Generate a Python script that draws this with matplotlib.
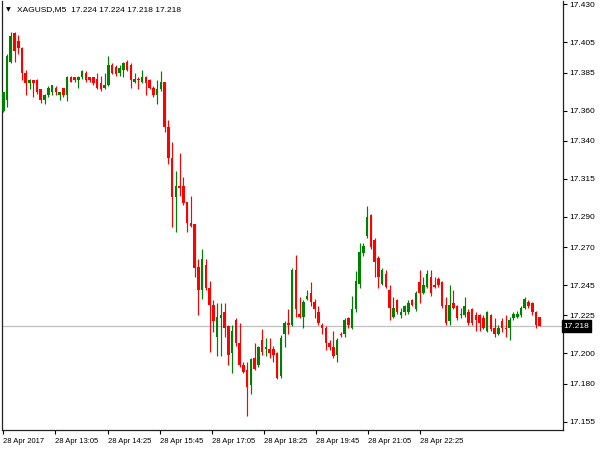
import numpy as np
import matplotlib
matplotlib.use("Agg")
import matplotlib.pyplot as plt

plt.rcParams['font.family'] = ['Liberation Sans', 'DejaVu Sans']

symbol = "XAGUSD,M5"
opens = [17.360, 17.367, 17.392, 17.411, 17.406, 17.401, 17.385, 17.378, 17.380, 17.380,
         17.374, 17.367, 17.370, 17.372, 17.375, 17.370, 17.375, 17.370, 17.382, 17.382,
         17.380, 17.382, 17.385, 17.382, 17.382, 17.381, 17.378, 17.375, 17.377, 17.390,
         17.389, 17.385, 17.387, 17.392, 17.390, 17.379, 17.381, 17.379, 17.382, 17.380,
         17.375, 17.370, 17.374, 17.379, 17.349, 17.329, 17.303, 17.310, 17.310, 17.300,
         17.286, 17.285, 17.257, 17.242, 17.258, 17.243, 17.232, 17.211, 17.223, 17.227,
         17.218, 17.200, 17.222, 17.207, 17.192, 17.189, 17.179, 17.197, 17.192, 17.209,
         17.203, 17.203, 17.203, 17.200, 17.185, 17.213, 17.220, 17.219, 17.255, 17.226,
         17.224, 17.236, 17.240, 17.234, 17.227, 17.219, 17.217, 17.207, 17.204, 17.199,
         17.213, 17.213, 17.223, 17.217, 17.229, 17.246, 17.266, 17.277, 17.291, 17.275,
         17.263, 17.246, 17.252, 17.242, 17.224, 17.235, 17.225, 17.227, 17.227, 17.235,
         17.229, 17.247, 17.240, 17.244, 17.250, 17.245, 17.249, 17.247, 17.232, 17.221,
         17.233, 17.231, 17.225, 17.225, 17.227, 17.229, 17.225, 17.225, 17.223, 17.215,
         17.225, 17.217, 17.213, 17.221, 17.217, 17.217, 17.223, 17.224, 17.225, 17.230,
         17.234, 17.233, 17.227, 17.224]
highs = [17.372, 17.397, 17.412, 17.412, 17.410, 17.402, 17.387, 17.381, 17.380, 17.381,
         17.374, 17.371, 17.376, 17.377, 17.376, 17.372, 17.375, 17.383, 17.383, 17.382,
         17.383, 17.387, 17.386, 17.382, 17.382, 17.385, 17.383, 17.385, 17.396, 17.391,
         17.390, 17.390, 17.392, 17.393, 17.391, 17.385, 17.382, 17.387, 17.383, 17.381,
         17.376, 17.380, 17.386, 17.379, 17.354, 17.339, 17.320, 17.332, 17.316, 17.300,
         17.304, 17.285, 17.262, 17.269, 17.262, 17.248, 17.235, 17.233, 17.233, 17.233,
         17.219, 17.219, 17.223, 17.220, 17.194, 17.194, 17.197, 17.207, 17.205, 17.216,
         17.210, 17.210, 17.205, 17.201, 17.212, 17.221, 17.229, 17.256, 17.265, 17.237,
         17.235, 17.242, 17.247, 17.236, 17.231, 17.220, 17.218, 17.209, 17.215, 17.210,
         17.214, 17.223, 17.224, 17.238, 17.254, 17.273, 17.273, 17.297, 17.292, 17.276,
         17.264, 17.256, 17.255, 17.245, 17.237, 17.236, 17.230, 17.232, 17.235, 17.236,
         17.241, 17.255, 17.250, 17.255, 17.255, 17.250, 17.250, 17.248, 17.237, 17.245,
         17.242, 17.232, 17.230, 17.237, 17.229, 17.230, 17.227, 17.226, 17.225, 17.228,
         17.226, 17.223, 17.219, 17.223, 17.225, 17.224, 17.227, 17.228, 17.231, 17.237,
         17.235, 17.234, 17.228, 17.224]
lows = [17.359, 17.362, 17.391, 17.392, 17.397, 17.380, 17.370, 17.374, 17.369, 17.371,
        17.365, 17.364, 17.369, 17.370, 17.370, 17.367, 17.369, 17.366, 17.379, 17.379,
        17.375, 17.381, 17.379, 17.379, 17.377, 17.374, 17.373, 17.374, 17.376, 17.384,
        17.383, 17.383, 17.382, 17.386, 17.375, 17.378, 17.374, 17.378, 17.370, 17.374,
        17.369, 17.364, 17.373, 17.346, 17.325, 17.283, 17.280, 17.304, 17.298, 17.280,
        17.283, 17.250, 17.225, 17.236, 17.242, 17.201, 17.214, 17.198, 17.198, 17.211,
        17.192, 17.187, 17.205, 17.191, 17.187, 17.159, 17.173, 17.189, 17.191, 17.199,
        17.198, 17.197, 17.194, 17.183, 17.184, 17.204, 17.213, 17.218, 17.224, 17.223,
        17.217, 17.235, 17.231, 17.223, 17.219, 17.213, 17.202, 17.202, 17.197, 17.194,
        17.211, 17.211, 17.217, 17.216, 17.227, 17.243, 17.264, 17.276, 17.269, 17.250,
        17.243, 17.245, 17.243, 17.222, 17.223, 17.226, 17.223, 17.225, 17.226, 17.231,
        17.228, 17.233, 17.239, 17.243, 17.238, 17.243, 17.244, 17.230, 17.219, 17.219,
        17.229, 17.222, 17.223, 17.224, 17.219, 17.219, 17.215, 17.215, 17.216, 17.214,
        17.215, 17.211, 17.212, 17.214, 17.211, 17.209, 17.222, 17.223, 17.224, 17.229,
        17.230, 17.225, 17.217, 17.218]
closes = [17.372, 17.396, 17.409, 17.399, 17.401, 17.385, 17.378, 17.380, 17.378, 17.372,
          17.367, 17.370, 17.375, 17.377, 17.372, 17.372, 17.370, 17.382, 17.379, 17.380,
          17.382, 17.386, 17.380, 17.380, 17.378, 17.375, 17.374, 17.377, 17.390, 17.385,
          17.384, 17.388, 17.391, 17.387, 17.380, 17.381, 17.380, 17.382, 17.378, 17.375,
          17.370, 17.374, 17.379, 17.349, 17.329, 17.303, 17.310, 17.309, 17.299, 17.286,
          17.284, 17.256, 17.242, 17.262, 17.243, 17.232, 17.221, 17.224, 17.225, 17.217,
          17.199, 17.215, 17.207, 17.192, 17.188, 17.178, 17.196, 17.190, 17.204, 17.201,
          17.204, 17.200, 17.199, 17.184, 17.210, 17.220, 17.219, 17.255, 17.229, 17.224,
          17.234, 17.238, 17.234, 17.229, 17.220, 17.217, 17.207, 17.204, 17.198, 17.209,
          17.212, 17.222, 17.219, 17.229, 17.248, 17.267, 17.271, 17.290, 17.270, 17.260,
          17.250, 17.255, 17.244, 17.230, 17.230, 17.227, 17.227, 17.231, 17.233, 17.232,
          17.240, 17.240, 17.245, 17.252, 17.240, 17.244, 17.245, 17.231, 17.220, 17.232,
          17.230, 17.223, 17.226, 17.231, 17.220, 17.220, 17.222, 17.220, 17.217, 17.227,
          17.216, 17.213, 17.217, 17.217, 17.216, 17.222, 17.226, 17.226, 17.230, 17.236,
          17.231, 17.227, 17.219, 17.218]

price_ticks = [17.430, 17.405, 17.385, 17.360, 17.340, 17.315, 17.290, 17.270,
               17.245, 17.225, 17.200, 17.180, 17.155]
time_labels = ["28 Apr 2017", "28 Apr 13:05", "28 Apr 14:25", "28 Apr 15:45",
               "28 Apr 17:05", "28 Apr 18:25", "28 Apr 19:45", "28 Apr 21:05",
               "28 Apr 22:25"]
time_label_bars = [0, 13.9, 27.8, 41.7, 55.6, 69.5, 83.4, 97.3, 111.2]

o = np.array(opens); h = np.array(highs); l = np.array(lows); c = np.array(closes)
n = len(o)
x = np.arange(n)
up = c >= o
colors = np.where(up, '#008000', '#FF0000')

fig = plt.figure(figsize=(6, 4.5), dpi=100)
ax = fig.add_axes([1.5 / 600, 1 - 430 / 450, 561 / 600, 429.5 / 450])
ax.set_xlim(-0.48, 149.08)
ax.set_ylim(17.1495, 17.4325)

last = c[-1]
ax.axhline(last, color='#C0C0C0', lw=0.9, zorder=0)

ax.vlines(x, l, h, colors=colors, lw=0.85, zorder=2)
body_h = np.maximum(np.abs(c - o), 0.0007)
ax.bar(x, body_h, bottom=np.minimum(o, c), width=0.7, color=colors, lw=0, zorder=3)

ax.spines['top'].set_visible(False)
for s in ['left', 'right', 'bottom']:
    ax.spines[s].set_color('#222222')
    ax.spines[s].set_linewidth(0.9)

ax.yaxis.tick_right()
ax.set_yticks(price_ticks)
ax.set_yticklabels([f"{v:.3f}" for v in price_ticks])
ax.tick_params(axis='y', direction='out', length=3, width=0.8, labelsize=6, pad=2,
               colors='black')
ax.set_xticks(time_label_bars)
ax.set_xticklabels(time_labels, ha='left')
ax.tick_params(axis='x', direction='out', length=3, width=0.8, labelsize=5.5, pad=3,
               colors='black')
for lbl in ax.get_xticklabels():
    lbl.set_horizontalalignment('left')

ax.text(1.002, last, f"{last:.3f}", transform=ax.get_yaxis_transform(), va='center',
        ha='left', fontsize=6, color='white', clip_on=False, zorder=5,
        bbox=dict(boxstyle='square,pad=0.25', fc='black', ec='black'))

fig.text(6 / 600, 1 - 10 / 450, "\u25bc", fontsize=4.5, va='center', ha='left',
         family=['DejaVu Sans'])
fig.text(17 / 600, 1 - 10 / 450,
         f"{symbol}  {o[-1]:.3f} {h[-1]:.3f} {l[-1]:.3f} {c[-1]:.3f}",
         fontsize=6, va='center', ha='left', color='black')

fig.savefig("out.png", dpi=100, facecolor='white')
